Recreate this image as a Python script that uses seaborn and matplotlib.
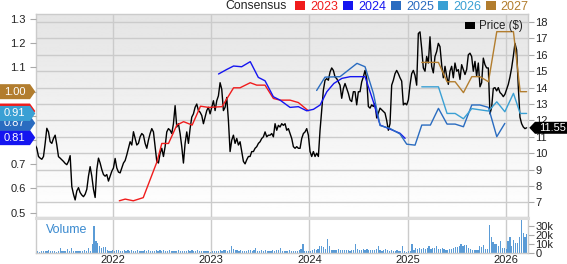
import numpy as np
import pandas as pd
import matplotlib
matplotlib.use("Agg")
import matplotlib.pyplot as plt
import matplotlib.dates as mdates
import matplotlib.transforms as mtrans
from matplotlib.patches import Polygon, Rectangle
import seaborn as sns

sns.set_theme(style="white")
plt.rcParams['font.family'] = ['Liberation Sans', 'DejaVu Sans']

# ---------------- data ----------------
price = [
    10.5, 10.3, 9.8, 9.7, 9.63, 9.8, 10.6, 11.52, 11.3, 10.7,
    10.6, 10.9, 11.1, 10.5, 9.79, 9.7, 9.6, 9.5, 9.38, 9.3,
    9.5, 9.85, 7.96, 7.5, 7.15, 7.7, 7.9, 7.6, 7.45, 7.35,
    7.5, 7.8, 8.6, 9.18, 8.6, 7.8, 7.3, 9.0, 9.7, 9.4,
    9.0, 8.7, 8.6, 8.7, 8.3, 8.6, 8.9, 9.1, 9.68, 9.1,
    8.85, 8.8, 9.1, 9.4, 9.55, 9.9, 10.3, 10.7, 10.5, 11.31,
    10.9, 10.5, 10.6,
    11.0, 11.2, 11.1, 10.6, 10.3, 10.8, 11.2, 11.5, 11.3, 10.4,
    9.5, 9.4, 10.0, 10.3, 9.8, 10.4, 11.3, 11.5, 11.4, 11.2,
    11.8, 12.9, 11.6, 11.8, 11.2, 10.4, 9.4, 10.6, 11.3, 10.6,
    11.5, 12.2, 12.4, 12.8, 13.0, 12.6, 12.5, 12.3, 11.8, 12.2,
    12.6, 12.8, 12.4, 12.8, 13.2, 12.6, 13.2, 13.5, 14.3, 13.9,
    12.6, 12.8, 13.4, 12.0, 10.1, 10.8, 11.1, 10.6, 10.9, 10.5,
    10.7, 10.1, 9.5, 9.35, 9.6, 9.8, 9.8, 10.1, 10.1, 10.3,
    10.4, 10.6, 10.7, 10.9, 11.0, 11.3, 11.0, 11.1, 11.1, 11.2,
    11.0, 11.8, 11.4, 11.7, 11.6, 11.8, 11.7, 11.8, 11.4, 11.5,
    11.2, 10.9, 10.4, 10.3, 10.4, 10.3, 10.3, 10.9, 11.2, 11.3,
    11.5, 11.1, 10.1, 9.8, 10.1, 9.8, 10.0, 9.8, 11.4, 12.6,
    13.85, 14.45, 14.55, 14.45, 14.95, 15.2, 15.05, 14.65, 14.55, 14.35,
    14.15, 13.35, 13.95, 14.25, 13.95, 13.65, 13.25, 13.15, 13.75, 13.75,
    12.95, 13.75, 13.75, 14.35, 14.65, 15.05, 14.55, 12.85, 12.75, 12.95,
    12.85, 13.05, 12.15, 12.45, 12.75, 12.65, 12.55, 12.45, 12.0, 11.4,
    11.8, 14.15, 14.45, 14.85, 15.05, 14.85, 14.6, 14.4, 12.95, 13.05,
    12.95, 13.25, 14.15, 14.85, 15.05, 14.75, 14.15, 17.3, 17.4, 16.4,
    15.2, 15.0, 15.9, 15.5, 17.1, 15.3, 14.9, 15.9, 16.2, 16.7,
    16.5, 15.4, 14.6, 15.3, 14.7, 14.2, 15.0, 15.3, 14.6, 15.5,
    15.0, 15.1, 14.5, 15.4, 15.1, 14.8, 15.1, 16.0, 16.1, 15.9,
    15.0, 15.6, 14.7, 15.5, 14.05, 14.3, 15.8, 15.4, 15.2, 15.2,
    12.4, 12.8, 13.95, 14.0, 13.8, 14.0, 13.7, 13.6, 13.45, 13.6,
    13.9, 14.2, 14.65, 15.2, 15.9, 16.7, 16.3, 14.05, 12.2, 11.8,
    11.6, 11.5, 11.55,
]
price_start, price_end = "2021-03-17", "2026-03-19"

volume_k = [
    2.0, 2.2, 1.8, 2.5, 2.1, 2.6, 2.3, 3.6, 2.4, 2.0, 2.2, 1.9, 2.7,
    5.6, 3.0, 2.5, 2.8, 4.5, 2.6, 5.6, 2.4, 2.0, 2.3, 2.1, 2.6, 2.2,
    3.7, 2.5, 5.6, 3.0, 10.5, 30.0, 13.0, 11.0, 8.0, 5.6, 6.7, 6.7, 4.0, 3.0, 2.5,
    3.2, 2.6, 3.8, 3.4, 3.0, 2.8, 3.5, 2.6, 3.1, 2.4, 3.3, 2.9,
    2.5, 3.6, 2.8, 3.0, 2.4, 3.9, 2.7, 3.2, 2.6, 3.0, 2.3, 3.5,
    2.8, 3.1, 2.5, 3.7, 2.9, 2.4, 3.3, 2.6, 3.0, 2.2, 2.8, 3.4,
    2.6, 3.0, 2.4, 2.9, 3.2, 2.5, 3.6, 2.7, 2.3, 3.1, 2.6, 2.0, 2.8, 2.4, 3.0, 2.6, 1.8,
    2.0, 2.4, 2.8, 2.5, 3.2, 2.7, 3.5, 4.0, 3.0, 3.6, 7.5, 4.5,
    3.8, 3.2, 2.9, 3.4, 2.6, 3.0, 2.8, 3.5, 3.1, 2.7, 4.0, 5.6,
    3.0, 2.6, 3.3, 2.8, 3.6, 2.5, 3.0, 2.7, 3.4, 2.6, 3.1, 3.8,
    5.6, 2.9, 2.5, 3.0, 2.6, 3.2, 2.8, 2.5, 3.0, 2.6, 3.3, 5.0, 10.5, 3.0, 2.2, 2.6,
    3.0, 3.5, 4.2, 3.6, 5.0, 8.0, 7.5, 6.7, 4.5, 15.7, 8.0, 4.0,
    3.5, 4.0, 3.6, 4.4, 3.2, 3.8, 4.1, 3.4, 3.9, 3.0, 3.6, 4.0, 10.0,
    4.5, 3.2, 3.8, 4.6, 3.6, 4.2, 3.4, 4.0, 3.1, 3.7, 4.4, 7.5, 3.5,
    3.0, 3.6, 4.2, 3.4, 2.8, 3.5, 3.0, 2.6, 3.2, 3.0, 2.5, 8.0, 2.0, 1.8,
    2.0, 2.2, 10.0, 4.0, 5.5, 4.5, 6.0, 5.0, 5.5, 4.8, 6.2, 8.0,
    5.2, 5.5, 5.8, 7.5, 5.0, 4.6, 5.5, 4.2, 4.0, 3.8, 4.5, 5.0,
    5.8, 6.5, 7.0, 8.0, 10.0, 7.5, 8.5, 9.4, 6.0, 4.5, 4.0, 3.8,
    4.0, 3.8, 7.5, 6.7, 9.4, 5.0, 4.5, 31.0, 18.0, 12.0, 10.0, 10.0, 8.0, 13.0, 5.6, 5.6,
    5.0, 13.0, 17.6, 7.5, 14.0, 11.0, 11.0, 18.0, 37.0, 21.7, 18.0, 21.0,
]
volume_start = "2021-03-19"

eps_2023_dates = ["2022-01-24", "2022-02-15", "2022-03-17", "2022-04-23", "2022-06-13",
                  "2022-07-01", "2022-07-26", "2022-08-26", "2022-09-20", "2022-10-22",
                  "2022-11-22", "2022-12-22", "2023-02-10", "2023-03-25", "2023-04-18",
                  "2023-05-26", "2023-06-19", "2023-07-20", "2023-08-20", "2023-09-14",
                  "2023-10-21", "2023-11-21", "2023-12-28"]
eps_2023 = [0.549, 0.556, 0.549, 0.562, 0.71, 0.786, 0.786, 0.862, 0.876, 0.862,
            0.94, 0.935, 0.938, 1.016, 1.016, 1.037, 1.027, 1.027, 0.972, 0.965,
            0.965, 0.955, 0.921]

eps_2024_dates = ["2023-01-28", "2023-02-28", "2023-03-25", "2023-04-24", "2023-05-26",
                  "2023-06-25", "2023-07-20", "2023-08-20", "2023-09-14", "2023-10-21",
                  "2023-11-21", "2023-12-22", "2024-01-16", "2024-02-10", "2024-03-06",
                  "2024-04-01", "2024-05-01", "2024-06-01", "2024-07-26", "2024-08-26",
                  "2024-09-20", "2024-10-21", "2024-12-03", "2024-12-22"]
eps_2024 = [1.073, 1.092, 1.106, 1.103, 1.124, 1.059, 1.045, 0.979, 0.965, 0.935,
            0.938, 0.921, 0.927, 0.945, 1.0, 1.034, 1.055, 1.062, 1.062, 0.958,
            0.862, 0.848, 0.828, 0.807]

eps_2025_dates = ["2024-01-28", "2024-02-28", "2024-04-24", "2024-06-26", "2024-07-26",
                  "2024-08-26", "2024-09-20", "2024-10-27", "2024-12-03", "2024-12-28",
                  "2025-01-28", "2025-02-22", "2025-03-26", "2025-04-25", "2025-05-27",
                  "2025-06-26", "2025-07-27", "2025-08-27", "2025-09-26", "2025-10-28",
                  "2025-11-28", "2025-12-28"]
eps_2025 = [1.005, 1.06, 1.062, 1.117, 1.103, 0.993, 0.86, 0.848, 0.825, 0.783,
            0.779, 0.862, 0.862, 0.931, 0.866, 0.866, 0.855, 0.945, 0.945, 0.935,
            0.814, 0.869]

eps_2026_dates = ["2025-02-22", "2025-04-25", "2025-05-27", "2025-06-26", "2025-07-27",
                  "2025-08-27", "2025-09-26", "2025-10-28", "2025-11-28", "2025-12-28",
                  "2026-01-29", "2026-02-23", "2026-03-19"]
eps_2026 = [1.02, 1.02, 0.91, 0.91, 0.888, 0.93, 0.925, 0.92, 0.958, 0.917,
            0.993, 0.91, 0.91]

eps_2027_dates = eps_2026_dates
eps_2027 = [1.121, 1.121, 1.041, 1.041, 0.996, 1.062, 1.062, 1.041, 1.248, 1.248,
            1.248, 1.0, 1.0]

years = ["2023", "2024", "2025", "2026", "2027"]
year_colors = ["#f01c1c", "#1515f0", "#2a6cc0", "#3aa0d4", "#b27d2e"]
# tag per series (the 2023 tag sits hidden behind the 2026 one, no readable label)
tag_values = [0.92, 0.81, 0.87, 0.91, 1.00]
tag_labels = ["", "0.81", "0.87", "0.91", "1.00"]
last_price_label = "11.55"
last_price = 11.55

eps_ticks = [0.5, 0.6, 0.7, 0.8, 0.9, 1.0, 1.1, 1.2, 1.3]
eps_tick_labels = ["0.5", "0.6", "0.7", "", "", "", "1.1", "1.2", "1.3"]
price_ticks = [7, 8, 9, 10, 11, 12, 13, 14, 15, 16, 17, 18]
vol_ticks = [0, 10000, 20000, 30000]
vol_tick_labels = ["0", "10k", "20k", "30k"]

# ---------------- figure ----------------
W, H = 567, 264
fig = plt.figure(figsize=(W / 100, H / 100), dpi=100)
fig.patch.set_facecolor("white")


def fx(px):
    return px / W


def fy(py):
    return 1 - py / H


L, R = 35.7, 527.7
ax = fig.add_axes([fx(L), fy(217), fx(R) - fx(L), fy(14) - fy(217)])
axv = fig.add_axes([fx(L), fy(253.3), fx(R) - fx(L), fy(217.5) - fy(253.3)])
ax_eps = ax.twinx()

xmin, xmax = pd.Timestamp("2021-03-19"), pd.Timestamp("2026-03-23")
grid_c = "#cbcbcb"
tick_c = "#222222"

# gradient background
grad = np.linspace(0.895, 1.0, 256).reshape(-1, 1)
ax.imshow(grad, extent=(0, 1, 0, 1), transform=ax.transAxes, aspect="auto",
          cmap="gray", vmin=0, vmax=1, zorder=-1, origin="upper")

price_dates = pd.date_range(price_start, price_end, periods=len(price))
dfp = pd.DataFrame({"date": price_dates, "price": price})
sns.lineplot(data=dfp, x="date", y="price", ax=ax, color="black", linewidth=1.0, zorder=3)

ax.set_xlim(xmin, xmax)
ax.set_ylim(6.11, 18.49)
ax.set_yticks(price_ticks)
ax.set_yticklabels([str(t) for t in price_ticks])
ax.xaxis.set_major_locator(mdates.YearLocator())
ax.set_axisbelow(True)
ax.grid(True, color=grid_c, linewidth=1.0)
ax.tick_params(axis="x", labelbottom=False, length=0)
ax.tick_params(axis="y", left=False, labelleft=False, right=True, labelright=True,
               length=4, width=0.8, color="#aaaaaa", labelsize=8, labelcolor=tick_c, pad=1.5)
ax.set_xlabel("")
ax.set_ylabel("")
for s in ax.spines.values():
    s.set_color(grid_c)
    s.set_linewidth(1.0)

# consensus EPS on the left scale
eps_sets = [(eps_2023_dates, eps_2023), (eps_2024_dates, eps_2024), (eps_2025_dates, eps_2025),
            (eps_2026_dates, eps_2026), (eps_2027_dates, eps_2027)]
for (d, v), c in zip(eps_sets, year_colors):
    dfe = pd.DataFrame({"date": pd.to_datetime(d), "eps": v})
    sns.lineplot(data=dfe, x="date", y="eps", ax=ax_eps, color=c, linewidth=1.0)
ax_eps.set_xlim(xmin, xmax)
ax_eps.set_ylim(0.482, 1.321)
ax_eps.set_yticks(eps_ticks)
ax_eps.set_yticklabels(eps_tick_labels)
ax_eps.tick_params(axis="y", left=True, labelleft=True, right=False, labelright=False,
                   length=4, width=0.8, color="#aaaaaa", labelsize=8, labelcolor=tick_c, pad=3)
ax_eps.set_ylabel("")
ax_eps.set_xlabel("")
for s in ax_eps.spines.values():
    s.set_visible(False)

# volume panel
vol_dates = pd.date_range(volume_start, periods=len(volume_k), freq="7D")
axv.bar(vol_dates, np.array(volume_k) * 1000, width=4.5, color="#5a9bd6", edgecolor="none", zorder=2)
axv.set_xlim(xmin, xmax)
axv.set_ylim(0, 39000)
axv.xaxis.set_major_locator(mdates.YearLocator())
axv.xaxis.set_major_formatter(mdates.DateFormatter("%Y"))
axv.set_axisbelow(True)
axv.grid(True, axis="x", color=grid_c, linewidth=1.0)
axv.yaxis.tick_right()
axv.set_yticks(vol_ticks)
axv.set_yticklabels(vol_tick_labels)
axv.tick_params(axis="y", right=True, length=4, width=0.8, color="#aaaaaa",
                labelsize=8, labelcolor=tick_c, pad=1.5)
axv.tick_params(axis="x", length=0, labelsize=8, labelcolor=tick_c, pad=1.5)
for k, s in axv.spines.items():
    s.set_color(grid_c)
    s.set_linewidth(1.0)
axv.spines["top"].set_color("#dcdcdc")
axv.spines["top"].set_linewidth(2.2)
fig.text(fx(45.7), fy(233), "Volume", color="#3a8ad0", fontsize=9, ha="left", va="baseline")

# left value tags
blend_eps = mtrans.blended_transform_factory(fig.transFigure, ax_eps.transData)
half_h = 7.5 / 203 * (1.321 - 0.482)
for i, (val, lab, c) in enumerate(zip(tag_values, tag_labels, year_colors)):
    poly = Polygon([(0, val - half_h), (fx(30), val - half_h), (fx(35.3), val),
                    (fx(30), val + half_h), (0, val + half_h)],
                   closed=True, transform=blend_eps, facecolor=c, edgecolor="none",
                   clip_on=False, zorder=5 + 2 * i)
    fig.add_artist(poly)
    if lab:
        fig.text(fx(4), val, lab, transform=blend_eps, color="white", fontsize=8,
                 ha="left", va="center", zorder=6 + 2 * i)

# right price tag
blend_p = mtrans.blended_transform_factory(fig.transFigure, ax.transData)
ph = 6.0 / 16.4
poly = Polygon([(fx(529.3), last_price), (fx(535), last_price - ph), (1.0, last_price - ph),
                (1.0, last_price + ph), (fx(535), last_price + ph)], closed=True,
               transform=blend_p, facecolor="black", edgecolor="none", clip_on=False, zorder=20)
fig.add_artist(poly)
fig.text(fx(539.5), last_price, last_price_label, transform=blend_p, color="white",
         fontsize=8, ha="left", va="center", zorder=21)

# top legend
fig.text(fx(225), fy(9), "Consensus", fontsize=8.8, color="#222222", ha="left", va="baseline")
sq_x = [295, 343, 391, 438.3, 486]
tx_x = [310.5, 358.5, 406, 453.3, 500.7]
for yr, c, sx, tx in zip(years, year_colors, sq_x, tx_x):
    fig.add_artist(Rectangle((fx(sx), fy(9.5)), fx(10), fy(1) - fy(9.5),
                             transform=fig.transFigure, facecolor=c, edgecolor="none"))
    fig.text(fx(tx), fy(9.5), yr, fontsize=9, color=c, ha="left", va="baseline")

# price legend
fig.add_artist(Rectangle((fx(465), fy(28.5)), fx(10), fy(22) - fy(28.5),
                         transform=fig.transFigure, facecolor="black", edgecolor="none", zorder=5))
fig.text(fx(479.3), fy(29), "Price ($)", fontsize=8.3, color="#222222", ha="left",
         va="baseline", zorder=6)

fig.savefig("out.png", dpi=100, facecolor="white")
